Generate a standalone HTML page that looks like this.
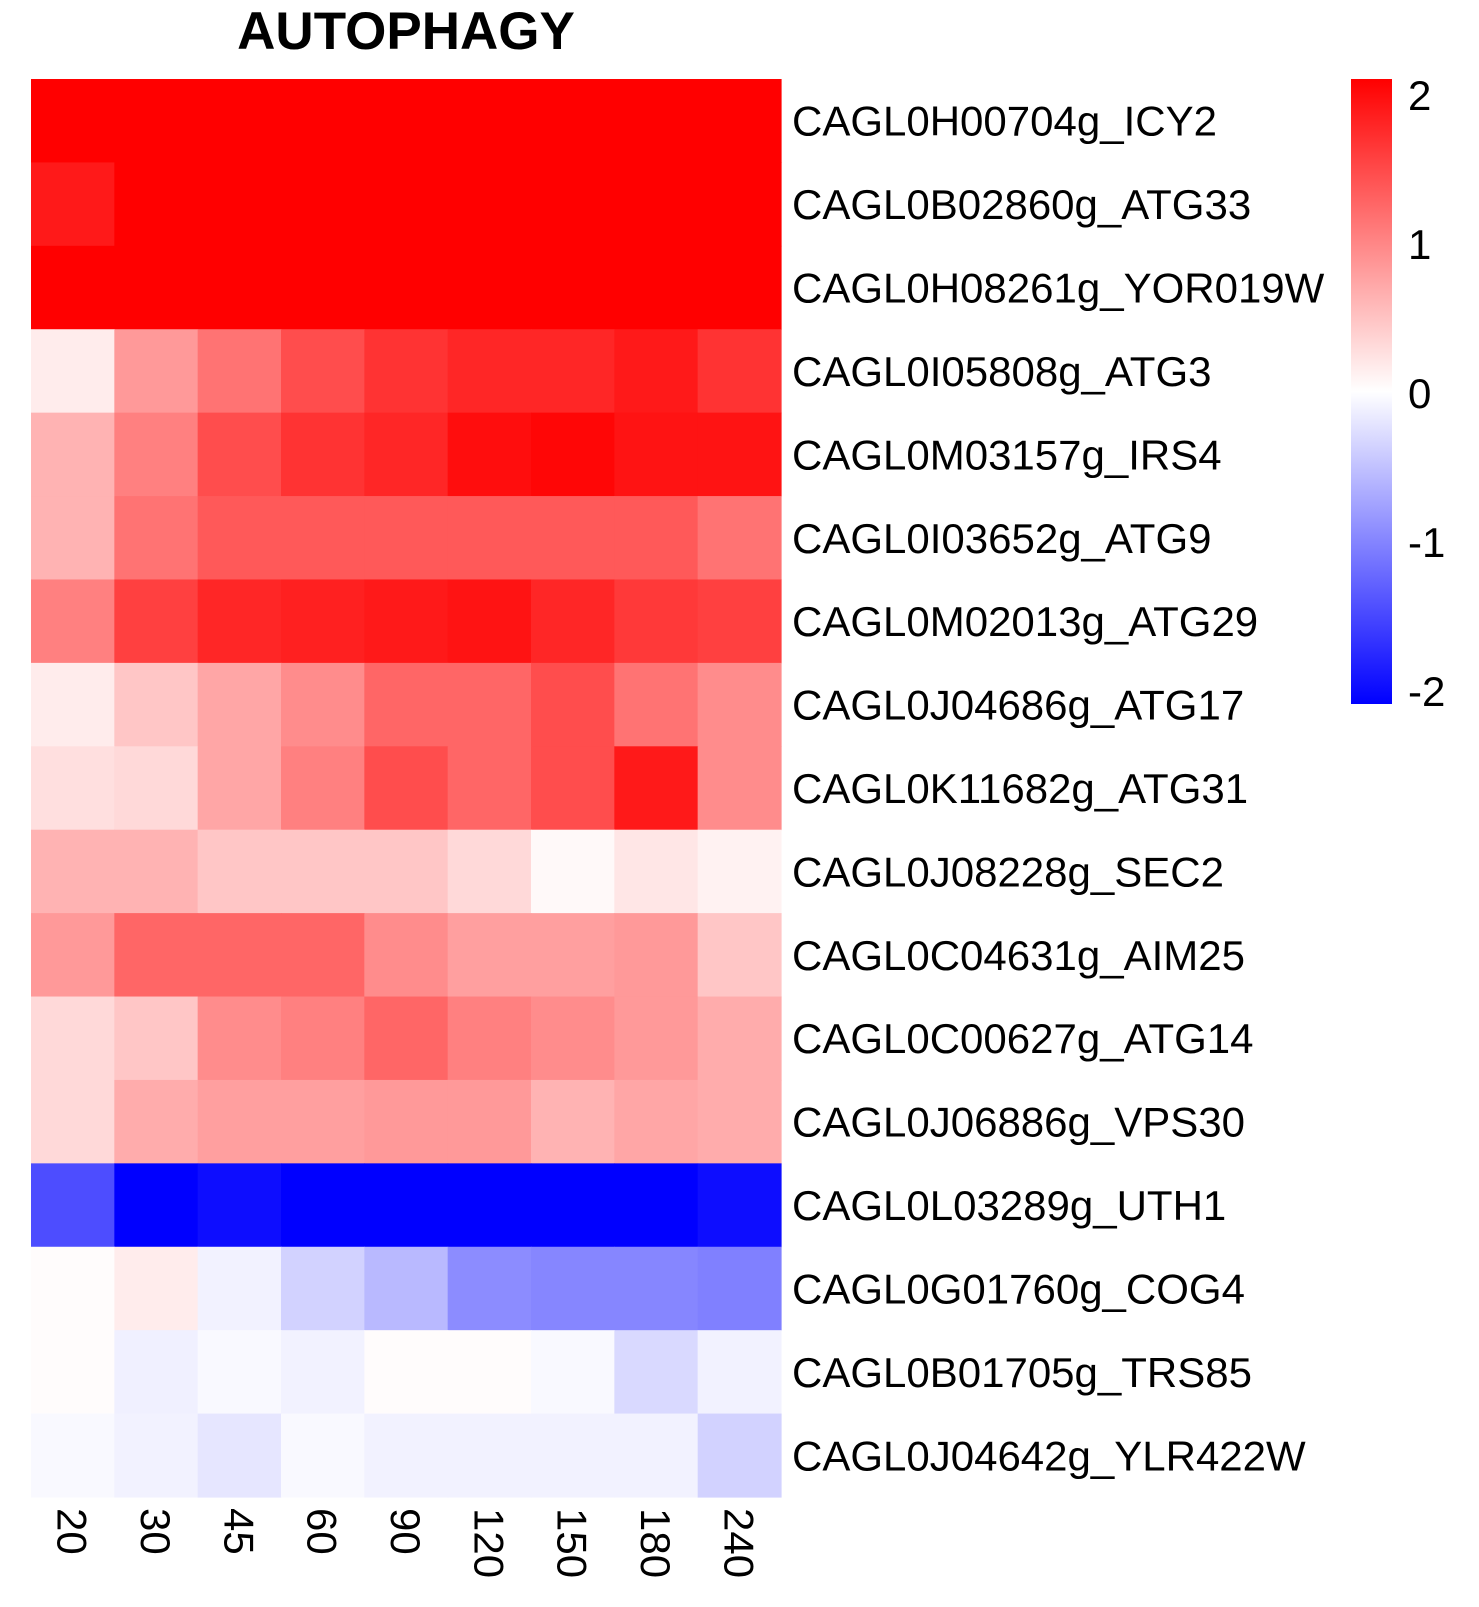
<!DOCTYPE html>
<html><head><meta charset="utf-8"><style>
html,body{margin:0;padding:0;background:#fff;}
svg{display:block;font-family:"Liberation Sans",Arial,sans-serif;}
</style></head><body>
<svg id="chart" width="1479" height="1607" viewBox="0 0 1479 1607">
<defs><linearGradient id="lg" x1="0" y1="1" x2="0" y2="0">
<stop offset="0" stop-color="#0000ff"/><stop offset="0.5" stop-color="#ffffff"/><stop offset="1" stop-color="#ff0000"/></linearGradient></defs>
<text x="406" y="49" text-anchor="middle" font-size="53" font-weight="bold">AUTOPHAGY</text>
<g id="cells"></g><g id="rowlabels"></g><g id="collabels"></g>
<rect x="1351" y="79" width="41" height="625" fill="url(#lg)"/>
<g id="legticks"></g>
</svg>
<script>
const columns = ["20","30","45","60","90","120","150","180","240"];
const genes = ["CAGL0H00704g_ICY2","CAGL0B02860g_ATG33","CAGL0H08261g_YOR019W","CAGL0I05808g_ATG3","CAGL0M03157g_IRS4","CAGL0I03652g_ATG9","CAGL0M02013g_ATG29","CAGL0J04686g_ATG17","CAGL0K11682g_ATG31","CAGL0J08228g_SEC2","CAGL0C04631g_AIM25","CAGL0C00627g_ATG14","CAGL0J06886g_VPS30","CAGL0L03289g_UTH1","CAGL0G01760g_COG4","CAGL0B01705g_TRS85","CAGL0J04642g_YLR422W"];
const values = [
[2,2,2,2,2,2,2,2,2],
[1.8,2,2,2,2,2,2,2,2],
[2,2,2,2,2,2,2,2,2],
[0.15,0.8,1.1,1.4,1.6,1.7,1.7,1.8,1.6],
[0.6,1.0,1.4,1.6,1.7,1.9,1.95,1.85,1.85],
[0.6,1.1,1.3,1.3,1.3,1.3,1.3,1.3,1.1],
[1.0,1.5,1.7,1.75,1.8,1.85,1.7,1.55,1.5],
[0.15,0.45,0.7,0.9,1.2,1.2,1.4,1.1,0.9],
[0.25,0.3,0.7,1.0,1.4,1.2,1.4,1.8,0.9],
[0.6,0.6,0.45,0.45,0.45,0.3,0.05,0.2,0.1],
[0.8,1.2,1.2,1.2,0.9,0.75,0.75,0.8,0.45],
[0.3,0.45,0.9,1.0,1.2,1.0,0.9,0.8,0.65],
[0.3,0.65,0.75,0.75,0.8,0.8,0.6,0.7,0.65],
[-1.4,-2,-1.9,-2,-2,-2,-2,-2,-1.9],
[0.02,0.15,-0.1,-0.35,-0.55,-0.9,-0.95,-0.95,-1.0],
[0.02,-0.12,-0.05,-0.1,0.02,0.02,-0.05,-0.3,-0.1],
[-0.05,-0.1,-0.2,-0.05,-0.1,-0.1,-0.1,-0.1,-0.35]
];
const legendTicks = [2,1,0,-1,-2];
const NS="http://www.w3.org/2000/svg";
const X0=31,X1=781,Y0=79,Y1=1497;
const cw=(X1-X0)/columns.length, rh=(Y1-Y0)/genes.length;
function xPos(i){return X0+i*cw;}
function yPos(j){return Y0+j*rh;}
function color(v){v=Math.max(-2,Math.min(2,v));
 if(v>=0){const t=v/2;const g=Math.round(255*(1-t));return `rgb(255,${g},${g})`;}
 const t=-v/2;const g=Math.round(255*(1-t));return `rgb(${g},${g},255)`;}
const cells=document.getElementById('cells');
values.forEach((row,j)=>row.forEach((v,i)=>{
 const r=document.createElementNS(NS,'rect');
 r.setAttribute('x',xPos(i));r.setAttribute('y',yPos(j));
 r.setAttribute('width',cw+0.6);r.setAttribute('height',rh+0.6);
 r.setAttribute('fill',color(v));
 
 
 cells.appendChild(r);}));
const rl=document.getElementById('rowlabels');
genes.forEach((g,j)=>{const t=document.createElementNS(NS,'text');
 t.setAttribute('x',792);t.setAttribute('y',yPos(j)+rh/2+15);
 t.setAttribute('font-size','42');t.textContent=g;
 
 
 rl.appendChild(t);});
const cl=document.getElementById('collabels');
columns.forEach((c,i)=>{const t=document.createElementNS(NS,'text');
 const cx=xPos(i)+cw/2-15, cy=1508;
 t.setAttribute('transform',`translate(${cx},${cy}) rotate(90)`);
 t.setAttribute('font-size','42');t.textContent=c;
 
 
 cl.appendChild(t);});
const lt=document.getElementById('legticks');
legendTicks.forEach(v=>{const t=document.createElementNS(NS,'text');
 const y=393-(v/2)*(393-95);
 t.setAttribute('x',1408);t.setAttribute('y',y+15);
 t.setAttribute('font-size','42');t.textContent=v;
 
 
 lt.appendChild(t);});
</script>
</body></html>
